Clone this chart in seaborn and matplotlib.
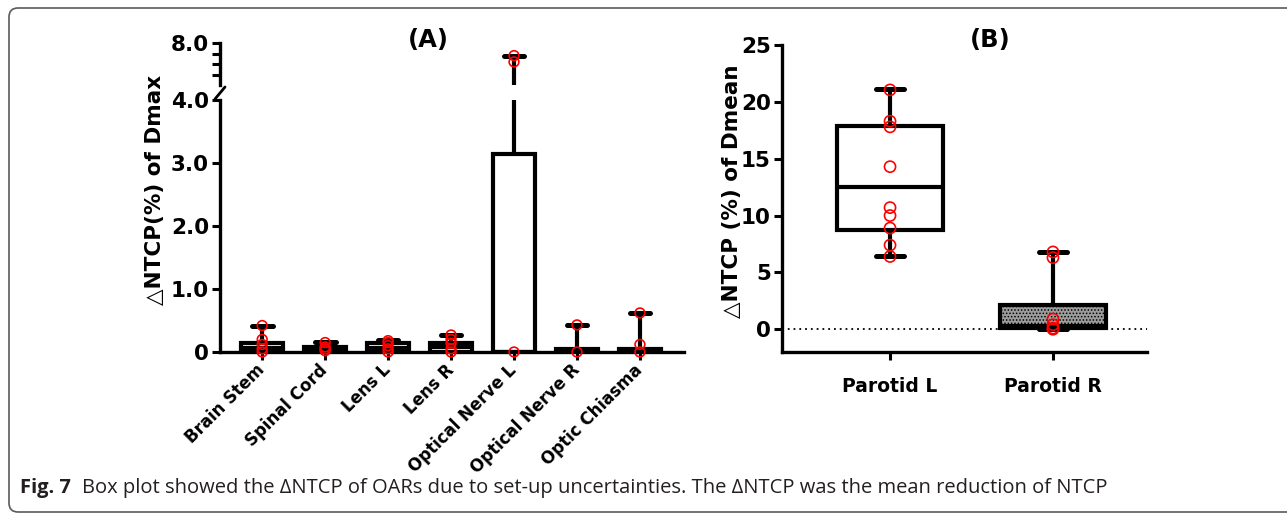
"""
Box plot do ΔNTCP dos OARs (painéis A e B) com legenda de figura.
"""
import numpy as np
import pandas as pd
import matplotlib
matplotlib.use('Agg')
import matplotlib.pyplot as plt
import matplotlib.patches as mpatches
import matplotlib.transforms as mtransforms
import seaborn as sns

# --- Dados ---
organs_a = ['Brain Stem', 'Spinal Cord', 'Lens L', 'Lens R',
            'Optical Nerve L', 'Optical Nerve R', 'Optic Chiasma']
min_a = [0.0, 0.0, 0.0, 0.0, 0.0, 0.0, 0.0]
q1_a = [0.0, 0.0, 0.0, 0.0, 0.0, 0.0, 0.0]
med_a = [0.07, 0.03, 0.07, 0.08, 0.0, 0.0, 0.0]
q3_a = [0.15, 0.08, 0.14, 0.15, 3.15, 0.05, 0.05]
max_a = [0.42, 0.16, 0.19, 0.27, 6.8, 0.43, 0.62]

pts_brain_stem = [0.42, 0.20, 0.12, 0.05, 0.0]
pts_spinal_cord = [0.15, 0.08, 0.05, 0.02]
pts_lens_l = [0.18, 0.15, 0.10, 0.05, 0.0]
pts_lens_r = [0.27, 0.20, 0.14, 0.05, 0.0]
pts_optical_nerve_l = [6.8, 6.2, 0.0]
pts_optical_nerve_r = [0.43, 0.0]
pts_optic_chiasma = [0.62, 0.12, 0.0]

organs_b = ['Parotid L', 'Parotid R']
min_b = [6.4, 0.0]
q1_b = [8.7, 0.1]
med_b = [12.5, 0.3]
q3_b = [17.9, 2.1]
max_b = [21.1, 6.8]

pts_parotid_l = [21.05, 18.3, 17.8, 14.3, 10.7, 10.0, 8.9, 7.4, 6.4]
pts_parotid_r = [6.8, 6.3, 0.9, 0.4, 0.1, 0.0]

caption_bold = 'Fig. 7'
caption_text = ('Box plot showed the ΔNTCP of OARs due to set-up uncertainties. '
                'The ΔNTCP was the mean reduction of NTCP')

# --- Montagem das tabelas ---
pts_a = [pts_brain_stem, pts_spinal_cord, pts_lens_l, pts_lens_r,
         pts_optical_nerve_l, pts_optical_nerve_r, pts_optic_chiasma]
df_a = pd.DataFrame([(o, v) for o, vs in zip(organs_a, pts_a) for v in vs],
                    columns=['organ', 'value'])
df_b = pd.DataFrame([(o, v) for o, vs in zip(organs_b, [pts_parotid_l, pts_parotid_r])
                     for v in vs], columns=['organ', 'value'])


def box_stats(lo, q1, med, q3, hi):
    return [dict(whislo=a, q1=b, med=c, q3=d, whishi=e, fliers=[])
            for a, b, c, d, e in zip(lo, q1, med, q3, hi)]


stats_a = box_stats(min_a, q1_a, med_a, q3_a, max_a)
stats_b = box_stats(min_b, q1_b, med_b, q3_b, max_b)

sns.set_style('ticks')
plt.rcParams['font.family'] = ['DejaVu Sans']
plt.rcParams['font.weight'] = 'bold'
plt.rcParams['hatch.linewidth'] = 0.7
for k in ['text.color', 'axes.labelcolor', 'xtick.color', 'ytick.color',
          'axes.edgecolor']:
    plt.rcParams[k] = 'black'

W, H = 1287, 513
fig = plt.figure(figsize=(W / 100, H / 100), dpi=100)


def rect(x0, x1, ytop, ybot):
    return [x0 / W, 1 - ybot / H, (x1 - x0) / W, (ybot - ytop) / H]


LW = 3.0
TICK_FS = 15.5


def draw_boxes(ax, stats, width, capw, lw):
    art = ax.bxp(stats, positions=range(len(stats)), widths=width,
                 capwidths=capw, showfliers=False, patch_artist=True,
                 manage_ticks=False,
                 boxprops=dict(facecolor='white', edgecolor='black', linewidth=lw),
                 whiskerprops=dict(color='black', linewidth=lw, solid_capstyle='butt'),
                 capprops=dict(color='black', linewidth=lw + 0.6),
                 medianprops=dict(color='black', linewidth=lw))
    return art


def strip(ax, data, order, size, clip=True):
    sns.stripplot(data=data, x='organ', y='value', order=order, jitter=False,
                  ax=ax, marker='o', size=size, color='red', facecolors='none',
                  edgecolor='red', linewidth=1.2, zorder=4, clip_on=clip)
    ax.set_xlabel('')
    ax.set_ylabel('')


def style_axis(ax):
    for s in ['top', 'right']:
        ax.spines[s].set_visible(False)
    for s in ['left', 'bottom']:
        ax.spines[s].set_linewidth(2.4)
    ax.tick_params(width=2.2, length=6, labelsize=TICK_FS, pad=2)


# ================= Painel A (eixo quebrado) =================
ax_lo = fig.add_axes(rect(220, 684, 100, 352))
ax_hi = fig.add_axes(rect(220, 684, 43, 85))

for ax in (ax_lo, ax_hi):
    draw_boxes(ax, stats_a, 0.66, 0.33, LW)

strip(ax_lo, df_a[df_a['value'] <= 4], organs_a, 7, clip=False)
strip(ax_hi, df_a[df_a['value'] > 4], organs_a, 7)

xl_a = (-0.67, 6.7)
ax_lo.set_xlim(*xl_a)
ax_lo.set_ylim(0, 4)
ax_lo.set_yticks([0, 1, 2, 3, 4])
ax_lo.set_yticklabels(['0', '1.0', '2.0', '3.0', '4.0'])
ax_lo.set_xticks(range(len(organs_a)))
ax_lo.set_xticklabels(organs_a, rotation=45, ha='right', va='center',
                      rotation_mode='anchor')
style_axis(ax_lo)
ax_lo.tick_params(axis='x', labelsize=12, pad=5)

ax_hi.set_xlim(*xl_a)
ax_hi.set_ylim(4, 8)
ax_hi.set_yticks([8])
ax_hi.set_yticklabels(['8.0'])
ax_hi.set_yticks([5, 6, 7], minor=True)
style_axis(ax_hi)
ax_hi.spines['bottom'].set_visible(False)
ax_hi.tick_params(axis='x', bottom=False, labelbottom=False)
ax_hi.tick_params(axis='y', which='minor', width=2.2, length=6)
ax_hi.patch.set_alpha(0)

# marca de quebra do eixo
ident = mtransforms.IdentityTransform()
fig.add_artist(plt.Line2D([215, 225], [H - 99, H - 87], color='black',
                          lw=2, transform=ident))

# ================= Painel B =================
ax_b = fig.add_axes(rect(782, 1147, 45, 352))
art_b = draw_boxes(ax_b, stats_b, 0.65, 0.17, 3.0)
gray_box = art_b['boxes'][1]
gray_box.set_facecolor('#9c9c9c')
gray_box.set_hatch('.....')

ax_b.axhline(0, color='black', lw=1.3, ls=(0, (1, 2.2)), zorder=0.5)
strip(ax_b, df_b, organs_b, 8)

ax_b.set_xlim(-0.663, 1.577)
ax_b.set_ylim(-2, 25)
ax_b.set_yticks([0, 5, 10, 15, 20, 25])
ax_b.set_xticks([0, 1])
ax_b.set_xticklabels(organs_b)
style_axis(ax_b)
ax_b.tick_params(axis='x', labelsize=13.5, pad=12)

# rótulos e títulos
fig.text(155 / W, 1 - 190 / H, '△NTCP(%) of Dmax', rotation=90,
         ha='center', va='center', fontsize=15.5, fontweight='bold')
fig.text(732 / W, 1 - 191 / H, '△NTCP (%) of Dmean', rotation=90,
         ha='center', va='center', fontsize=15.5, fontweight='bold')
fig.text(428 / W, 1 - 40 / H, '(A)', ha='center', va='center',
         fontsize=17.5, fontweight='bold')
fig.text(990 / W, 1 - 40 / H, '(B)', ha='center', va='center',
         fontsize=17.5, fontweight='bold')

# moldura arredondada
frame = mpatches.FancyBboxPatch((9, 1), 1400, 504,
                                boxstyle='round,pad=0,rounding_size=9',
                                transform=ident, fill=False,
                                ec='#5a5a5a', lw=1.2)
fig.add_artist(frame)

# legenda da figura
cap_y = 1 - 493 / H
t1 = fig.text(20 / W, cap_y, caption_bold, family='Open Sans',
              fontweight='bold', fontsize=14.5, va='baseline', color='#231f20')
renderer = fig.canvas.get_renderer()
bb = t1.get_window_extent(renderer)
fig.text((bb.x1 + 11) / W, cap_y, caption_text, family='Open Sans',
         fontweight='normal', fontsize=14.5, va='baseline', color='#231f20')

fig.savefig('out.png', dpi=100)
